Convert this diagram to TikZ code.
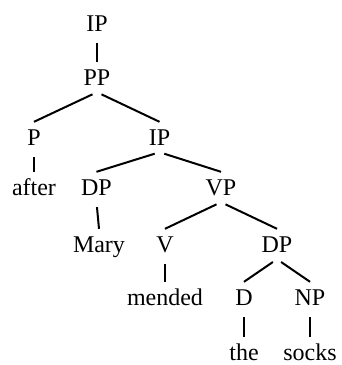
\documentclass[tikz,border=0pt]{standalone}
\usepackage{fontspec}
\setmainfont{Liberation Serif}
\begin{document}
\begin{tikzpicture}[x=1pt,y=-1pt,font=\rmfamily\fontsize{24}{28}\selectfont,
    branch/.style={line width=2pt,shorten <=5pt}]
    \tikzstyle{cat}=[anchor=base,inner xsep=0pt,inner ysep=7pt,text height=16pt,text depth=0pt]
    \useasboundingbox (0,0) rectangle (342,365);

    \node[cat] (ip0) at (97,31) {IP};
    \node[cat] (pp) at (97,85) {PP};
    \node[cat] (p) at (34,145) {P};
    \node[cat] (ip1) at (159.5,145) {IP};
    \node[cat] (after) at (34,195) {after};
    \node[cat] (dp1) at (96.5,195) {DP};
    \node[cat] (vp) at (221,195) {VP};
    \node[cat] (mary) at (99,252) {Mary};
    \node[cat] (v) at (165,252) {V};
    \node[cat] (dp2) at (277,252) {DP};
    \node[cat] (mended) at (165,305) {mended};
    \node[cat] (d) at (244,305) {D};
    \node[cat] (np) at (310,305) {NP};
    \node[cat] (the) at (244,360) {the};
    \node[cat] (socks) at (310,360) {socks};

    \draw[branch] (ip0.south) -- (pp.north);
    \draw[branch] (pp.south) -- (p.north);
    \draw[branch] (pp.south) -- (ip1.north);
    \draw[branch] (p.south) -- (after.north);
    \draw[branch] (ip1.south) -- (dp1.north);
    \draw[branch] (ip1.south) -- (vp.north);
    \draw[branch] (dp1.south) -- (mary.north);
    \draw[branch] (vp.south) -- (v.north);
    \draw[branch] (vp.south) -- (dp2.north);
    \draw[branch] (v.south) -- (mended.north);
    \draw[branch] (dp2.south) -- (d.north);
    \draw[branch] (dp2.south) -- (np.north);
    \draw[branch] (d.south) -- (the.north);
    \draw[branch] (np.south) -- (socks.north);

  \end{tikzpicture}
\end{document}
